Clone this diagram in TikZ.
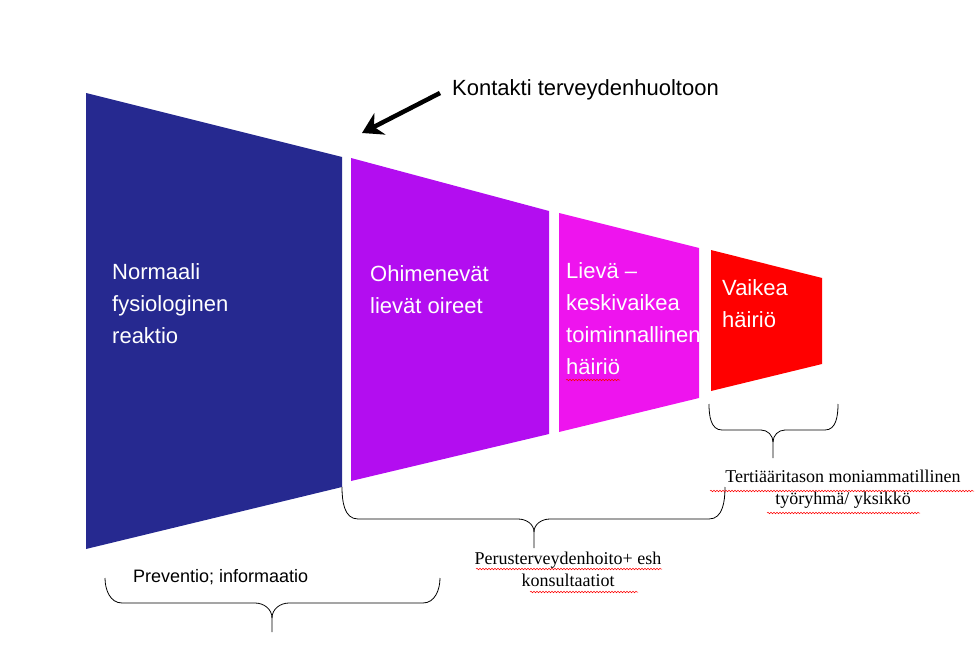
\documentclass[tikz,border=0pt]{standalone}
\usepackage{fontspec}
\setmainfont{Liberation Sans}
\newfontfamily\serifx{Liberation Serif}
\usetikzlibrary{decorations.pathmorphing,arrows.meta}
\definecolor{navy}{HTML}{262990}
\definecolor{violetx}{HTML}{B30DF0}
\definecolor{magx}{HTML}{EE14EE}
\tikzset{
  lbl/.style={text=white,font=\fontsize{22}{32}\selectfont,align=left,anchor=north west,inner sep=0},
  brace/.style={draw=black,line width=0.8pt},
  btxt/.style={font=\serifx\fontsize{18}{22}\selectfont,align=center,inner sep=0},
  wav/.style={red,line width=0.5pt,decorate,decoration={snake,amplitude=0.8pt,segment length=3pt}}
}
\begin{document}
\begin{tikzpicture}[x=1pt,y=-1pt]
\useasboundingbox (0,0) rectangle (980,661);
\fill[navy] (86,93) -- (342,157) -- (342,487) -- (86,549) -- cycle;
\fill[violetx] (351,158) -- (549,211) -- (549,434) -- (351,481) -- cycle;
\fill[magx] (559,213) -- (699,248) -- (699,398) -- (559,432) -- cycle;
\fill[red] (711,250) -- (822,278) -- (822,364) -- (711,391) -- cycle;
\node[lbl] (n1) at (112,263) {Normaali\\fysiologinen\\reaktio};
\node[lbl] (n2) at (370,265) {Ohimenevät\\lievät oireet};
\node[lbl] (n3) at (566,262) {Lievä –\\keskivaikea\\toiminnallinen\\häiriö};
\node[lbl] (n4) at (722,279) {Vaikea\\häiriö};
\node[anchor=west,inner sep=0,font=\fontsize{22}{26}\selectfont] (k) at (452,90) {Kontakti terveydenhuoltoon};
\coordinate (a1) at (440,93);
\coordinate (a2) at (362,133);
\draw[line width=4.5pt,-{Stealth[length=20pt,width=24pt]}] (a1) -- (a2);
% braces
\draw[brace] (105,578) to[out=-90,in=180] (122,603) -- (255,603) to[out=0,in=90] (272,618) -- (272,632);
\draw[brace] (440,578) to[out=-90,in=0] (423,603) -- (289,603) to[out=180,in=90] (272,618);
\draw[brace] (342,487) to[out=-90,in=180] (358,519) -- (518,519) to[out=0,in=90] (534,532) -- (534,548);
\draw[brace] (725,487) to[out=-90,in=0] (709,519) -- (550,519) to[out=180,in=90] (534,532);
\draw[brace] (709,404) to[out=-90,in=180] (722,430) -- (761,430) to[out=0,in=90] (773,442) -- (773,458);
\draw[brace] (838,404) to[out=-90,in=0] (825,430) -- (785,430) to[out=180,in=90] (773,442);
\node[anchor=west,inner sep=0,font=\fontsize{18}{22}\selectfont] (p) at (133,577) {Preventio; informaatio};
\node[btxt] (b1) at (568,569) {Perusterveydenhoito+ esh\\konsultaatiot};
\node[btxt] (b2) at (843,489) {Tertiääritason moniammatillinen\\työryhmä/ yksikkö};
\draw[wav] (476,569) -- (662,569);
\draw[wav] (530,592) -- (638,592);
\draw[wav] (710,491) -- (974,491);
\draw[wav] (767,513) -- (920,513);
\draw[wav] (566,380) -- (620,380);
\end{tikzpicture}
\end{document}
